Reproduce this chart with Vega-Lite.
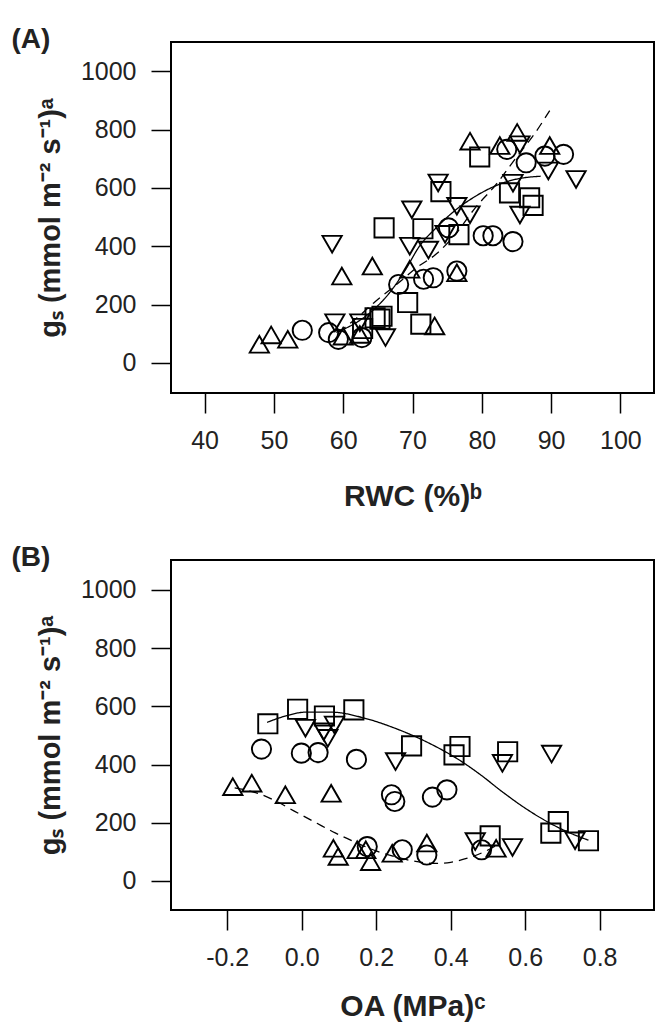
{
  "$schema": "https://vega.github.io/schema/vega-lite/v6.json",
  "background": "white",
  "padding": {"left": 10, "top": 25, "right": 0, "bottom": 0},
  "spacing": 31,
  "config": {
    "font": "Liberation Sans",
    "view": {"stroke": "black", "strokeWidth": 2},
    "axis": {
      "grid": false, "domain": false, "ticks": true, "tickSize": 20, "tickWidth": 1.5, "tickColor": "black",
      "labelFont": "Liberation Sans", "labelFontSize": 25, "labelColor": "#222", "labelPadding": 14,
      "titleFont": "Liberation Sans", "titleFontWeight": "bold", "titleColor": "#222"
    },
    "axisX": {"titleFontSize": 30, "titlePadding": 28, "labelPadding": 15},
    "axisY": {"titleFontSize": 29, "titlePadding": 15, "labelPadding": 15},
    "title": {"font": "Liberation Sans", "fontSize": 28, "fontWeight": "bold", "color": "#222", "anchor": "start", "frame": "bounds"}
  },
  "datasets": {
    "a_points": [
      {"rwc": 54.1, "gs": 112, "g": "c"}, {"rwc": 57.9, "gs": 104, "g": "c"}, {"rwc": 59.3, "gs": 81, "g": "c"}, {"rwc": 62.7, "gs": 87, "g": "c"},
      {"rwc": 68.0, "gs": 269, "g": "c"}, {"rwc": 71.6, "gs": 287, "g": "c"}, {"rwc": 73.0, "gs": 292, "g": "c"}, {"rwc": 76.4, "gs": 315, "g": "c"},
      {"rwc": 75.2, "gs": 463, "g": "c"}, {"rwc": 80.2, "gs": 436, "g": "c"}, {"rwc": 81.6, "gs": 436, "g": "c"}, {"rwc": 84.5, "gs": 416, "g": "c"},
      {"rwc": 83.6, "gs": 732, "g": "c"}, {"rwc": 86.4, "gs": 686, "g": "c"}, {"rwc": 89.1, "gs": 709, "g": "c"}, {"rwc": 91.8, "gs": 715, "g": "c"},
      {"rwc": 62.8, "gs": 118, "g": "s"}, {"rwc": 64.6, "gs": 155, "g": "s"}, {"rwc": 65.3, "gs": 150, "g": "s"}, {"rwc": 65.6, "gs": 160, "g": "s"},
      {"rwc": 69.3, "gs": 207, "g": "s"}, {"rwc": 71.2, "gs": 133, "g": "s"}, {"rwc": 65.9, "gs": 463, "g": "s"}, {"rwc": 71.5, "gs": 460, "g": "s"},
      {"rwc": 74.1, "gs": 587, "g": "s"}, {"rwc": 76.7, "gs": 440, "g": "s"}, {"rwc": 79.7, "gs": 706, "g": "s"}, {"rwc": 84.0, "gs": 583, "g": "s"},
      {"rwc": 86.9, "gs": 566, "g": "s"}, {"rwc": 87.4, "gs": 540, "g": "s"},
      {"rwc": 47.9, "gs": 64, "g": "tu"}, {"rwc": 49.6, "gs": 96, "g": "tu"}, {"rwc": 52.0, "gs": 81, "g": "tu"}, {"rwc": 60.0, "gs": 92, "g": "tu"},
      {"rwc": 62.4, "gs": 98, "g": "tu"}, {"rwc": 59.8, "gs": 298, "g": "tu"}, {"rwc": 64.2, "gs": 332, "g": "tu"}, {"rwc": 69.6, "gs": 321, "g": "tu"},
      {"rwc": 73.2, "gs": 127, "g": "tu"}, {"rwc": 76.4, "gs": 309, "g": "tu"}, {"rwc": 78.3, "gs": 760, "g": "tu"}, {"rwc": 82.6, "gs": 745, "g": "tu"},
      {"rwc": 85.1, "gs": 790, "g": "tu"}, {"rwc": 89.8, "gs": 745, "g": "tu"},
      {"rwc": 58.4, "gs": 407, "g": "td"}, {"rwc": 58.8, "gs": 138, "g": "td"}, {"rwc": 62.4, "gs": 138, "g": "td"}, {"rwc": 66.1, "gs": 87, "g": "td"},
      {"rwc": 69.6, "gs": 400, "g": "td"}, {"rwc": 69.9, "gs": 525, "g": "td"}, {"rwc": 72.3, "gs": 387, "g": "td"}, {"rwc": 73.7, "gs": 617, "g": "td"},
      {"rwc": 74.7, "gs": 441, "g": "td"}, {"rwc": 76.4, "gs": 537, "g": "td"}, {"rwc": 78.3, "gs": 508, "g": "td"}, {"rwc": 84.5, "gs": 616, "g": "td"},
      {"rwc": 85.5, "gs": 507, "g": "td"}, {"rwc": 85.5, "gs": 748, "g": "td"}, {"rwc": 89.6, "gs": 658, "g": "td"}, {"rwc": 93.6, "gs": 629, "g": "td"}
    ],
    "a_lines": [
      {"rwc": 59.0, "gs": 105, "fit": "solid"}, {"rwc": 62.0, "gs": 140, "fit": "solid"}, {"rwc": 64.5, "gs": 185, "fit": "solid"},
      {"rwc": 67.0, "gs": 250, "fit": "solid"}, {"rwc": 69.0, "gs": 320, "fit": "solid"}, {"rwc": 71.0, "gs": 400, "fit": "solid"},
      {"rwc": 73.5, "gs": 465, "fit": "solid"}, {"rwc": 76.0, "gs": 520, "fit": "solid"}, {"rwc": 79.0, "gs": 570, "fit": "solid"},
      {"rwc": 82.5, "gs": 612, "fit": "solid"}, {"rwc": 85.0, "gs": 630, "fit": "solid"}, {"rwc": 88.5, "gs": 640, "fit": "solid"},
      {"rwc": 59.3, "gs": 105, "fit": "dashed"}, {"rwc": 62.0, "gs": 155, "fit": "dashed"}, {"rwc": 64.6, "gs": 210, "fit": "dashed"},
      {"rwc": 68.0, "gs": 275, "fit": "dashed"}, {"rwc": 70.5, "gs": 325, "fit": "dashed"}, {"rwc": 73.5, "gs": 375, "fit": "dashed"},
      {"rwc": 76.5, "gs": 450, "fit": "dashed"}, {"rwc": 79.0, "gs": 530, "fit": "dashed"}, {"rwc": 82.0, "gs": 610, "fit": "dashed"},
      {"rwc": 85.0, "gs": 705, "fit": "dashed"}, {"rwc": 87.6, "gs": 785, "fit": "dashed"}, {"rwc": 89.8, "gs": 865, "fit": "dashed"}
    ],
    "b_points": [
      {"oa": -0.091, "gs": 540, "g": "s"}, {"oa": -0.011, "gs": 590, "g": "s"}, {"oa": 0.061, "gs": 567, "g": "s"}, {"oa": 0.140, "gs": 588, "g": "s"},
      {"oa": 0.295, "gs": 464, "g": "s"}, {"oa": 0.425, "gs": 462, "g": "s"}, {"oa": 0.409, "gs": 433, "g": "s"}, {"oa": 0.553, "gs": 444, "g": "s"},
      {"oa": 0.689, "gs": 204, "g": "s"}, {"oa": 0.669, "gs": 164, "g": "s"}, {"oa": 0.770, "gs": 138, "g": "s"}, {"oa": 0.506, "gs": 155, "g": "s"},
      {"oa": 0.010, "gs": 525, "g": "td"}, {"oa": 0.059, "gs": 513, "g": "td"}, {"oa": 0.088, "gs": 536, "g": "td"}, {"oa": 0.070, "gs": 490, "g": "td"},
      {"oa": 0.252, "gs": 410, "g": "td"}, {"oa": 0.539, "gs": 404, "g": "td"}, {"oa": 0.671, "gs": 436, "g": "td"}, {"oa": 0.466, "gs": 135, "g": "td"},
      {"oa": 0.566, "gs": 115, "g": "td"}, {"oa": 0.734, "gs": 138, "g": "td"},
      {"oa": -0.108, "gs": 453, "g": "c"}, {"oa": -0.001, "gs": 439, "g": "c"}, {"oa": 0.044, "gs": 441, "g": "c"}, {"oa": 0.147, "gs": 418, "g": "c"},
      {"oa": 0.241, "gs": 296, "g": "c"}, {"oa": 0.250, "gs": 273, "g": "c"}, {"oa": 0.351, "gs": 288, "g": "c"}, {"oa": 0.390, "gs": 313, "g": "c"},
      {"oa": 0.176, "gs": 118, "g": "c"}, {"oa": 0.270, "gs": 107, "g": "c"}, {"oa": 0.336, "gs": 89, "g": "c"}, {"oa": 0.483, "gs": 107, "g": "c"},
      {"oa": -0.185, "gs": 324, "g": "tu"}, {"oa": -0.134, "gs": 336, "g": "tu"}, {"oa": -0.044, "gs": 296, "g": "tu"}, {"oa": 0.079, "gs": 301, "g": "tu"},
      {"oa": 0.085, "gs": 112, "g": "tu"}, {"oa": 0.098, "gs": 84, "g": "tu"}, {"oa": 0.149, "gs": 107, "g": "tu"}, {"oa": 0.172, "gs": 107, "g": "tu"},
      {"oa": 0.185, "gs": 66, "g": "tu"}, {"oa": 0.243, "gs": 95, "g": "tu"}, {"oa": 0.336, "gs": 130, "g": "tu"}, {"oa": 0.522, "gs": 112, "g": "tu"}
    ],
    "b_lines": [
      {"oa": -0.093, "gs": 545, "fit": "solid"}, {"oa": -0.04, "gs": 568, "fit": "solid"}, {"oa": 0.01, "gs": 580, "fit": "solid"},
      {"oa": 0.08, "gs": 580, "fit": "solid"}, {"oa": 0.167, "gs": 560, "fit": "solid"}, {"oa": 0.25, "gs": 525, "fit": "solid"},
      {"oa": 0.31, "gs": 493, "fit": "solid"}, {"oa": 0.37, "gs": 455, "fit": "solid"}, {"oa": 0.42, "gs": 418, "fit": "solid"},
      {"oa": 0.48, "gs": 365, "fit": "solid"}, {"oa": 0.54, "gs": 305, "fit": "solid"}, {"oa": 0.6, "gs": 250, "fit": "solid"},
      {"oa": 0.66, "gs": 203, "fit": "solid"}, {"oa": 0.72, "gs": 165, "fit": "solid"}, {"oa": 0.77, "gs": 140, "fit": "solid"},
      {"oa": -0.18, "gs": 320, "fit": "dashed"}, {"oa": -0.12, "gs": 302, "fit": "dashed"}, {"oa": -0.075, "gs": 278, "fit": "dashed"},
      {"oa": -0.02, "gs": 240, "fit": "dashed"}, {"oa": 0.041, "gs": 198, "fit": "dashed"}, {"oa": 0.09, "gs": 165, "fit": "dashed"},
      {"oa": 0.14, "gs": 135, "fit": "dashed"}, {"oa": 0.2, "gs": 103, "fit": "dashed"}, {"oa": 0.266, "gs": 78, "fit": "dashed"},
      {"oa": 0.31, "gs": 66, "fit": "dashed"}, {"oa": 0.356, "gs": 60, "fit": "dashed"}, {"oa": 0.4, "gs": 64, "fit": "dashed"},
      {"oa": 0.445, "gs": 78, "fit": "dashed"}, {"oa": 0.49, "gs": 100, "fit": "dashed"}, {"oa": 0.526, "gs": 124, "fit": "dashed"}
    ]
  },
  "vconcat": [
    {
      "title": {"text": "(A)", "dx": -25, "offset": -12},
      "width": 483,
      "height": 351,
      "encoding": {
        "x": {"field": "rwc", "type": "quantitative", "scale": {"domain": [35.15, 104.85], "nice": false, "zero": false},
              "axis": {"values": [40, 50, 60, 70, 80, 90, 100], "format": "d", "title": "RWC (%)ᵇ"}},
        "y": {"field": "gs", "type": "quantitative", "scale": {"domain": [-103, 1100], "nice": false, "zero": false},
              "axis": {"values": [0, 200, 400, 600, 800, 1000], "format": "d", "title": "gₛ (mmol m⁻² s⁻¹)ᵃ"}}
      },
      "layer": [
        {
          "data": {"name": "a_points"},
          "mark": {"type": "point", "filled": false, "stroke": "black", "strokeWidth": 1.9, "size": 370, "opacity": 1},
          "encoding": {
            "shape": {"field": "g", "type": "nominal", "scale": {"domain": ["c", "s", "tu", "td"], "range": ["circle", "square", "triangle-up", "triangle-down"]}, "legend": null}
          }
        },
        {
          "data": {"name": "a_lines"},
          "mark": {"type": "line", "color": "black", "strokeWidth": 1.3, "interpolate": "monotone"},
          "encoding": {
            "strokeDash": {"field": "fit", "type": "nominal", "scale": {"domain": ["solid", "dashed"], "range": [[1, 0], [9, 6]]}, "legend": null}
          }
        }
      ]
    },
    {
      "title": {"text": "(B)", "dx": -25, "offset": -12},
      "width": 483,
      "height": 350,
      "encoding": {
        "x": {"field": "oa", "type": "quantitative", "scale": {"domain": [-0.351, 0.946], "nice": false, "zero": false},
              "axis": {"values": [-0.2, 0, 0.2, 0.4, 0.6, 0.8], "format": ".1f", "labelExpr": "replace(datum.label, '\u2212', '-')", "title": "OA (MPa)ᶜ", "titlePadding": 21}},
        "y": {"field": "gs", "type": "quantitative", "scale": {"domain": [-100, 1103], "nice": false, "zero": false},
              "axis": {"values": [0, 200, 400, 600, 800, 1000], "format": "d", "title": "gₛ (mmol m⁻² s⁻¹)ᵃ"}}
      },
      "layer": [
        {
          "data": {"name": "b_points"},
          "mark": {"type": "point", "filled": false, "stroke": "black", "strokeWidth": 1.9, "size": 370, "opacity": 1},
          "encoding": {
            "shape": {"field": "g", "type": "nominal", "scale": {"domain": ["c", "s", "tu", "td"], "range": ["circle", "square", "triangle-up", "triangle-down"]}, "legend": null}
          }
        },
        {
          "data": {"name": "b_lines"},
          "mark": {"type": "line", "color": "black", "strokeWidth": 1.3, "interpolate": "monotone"},
          "encoding": {
            "strokeDash": {"field": "fit", "type": "nominal", "scale": {"domain": ["solid", "dashed"], "range": [[1, 0], [9, 6]]}, "legend": null}
          }
        }
      ]
    }
  ]
}
